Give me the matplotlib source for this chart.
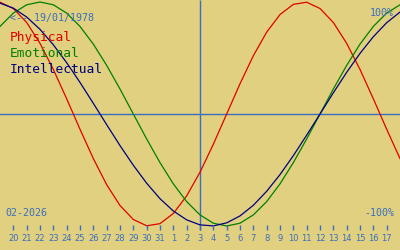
import matplotlib
matplotlib.use("Agg")
import matplotlib.pyplot as plt

# ---- data ----
days = list(range(-15, 16))  # offset in days from today (3 Feb 2026)
physical = [0.998, 0.942, 0.817, 0.631, 0.398, 0.136, -0.136, -0.398, -0.631, -0.817,
            -0.942, -0.998, -0.979, -0.888, -0.731, -0.520, -0.270, 0.000, 0.270, 0.520,
            0.731, 0.888, 0.979, 0.998, 0.942, 0.817, 0.631, 0.398, 0.136, -0.136, -0.398]
emotional = [0.782, 0.901, 0.975, 1.000, 0.975, 0.901, 0.782, 0.624, 0.434, 0.223,
             0.000, -0.223, -0.434, -0.624, -0.782, -0.901, -0.975, -1.000, -0.975, -0.901,
             -0.782, -0.624, -0.434, -0.223, 0.000, 0.223, 0.434, 0.624, 0.782, 0.901, 0.975]
intellectual = [0.990, 0.945, 0.866, 0.756, 0.618, 0.458, 0.282, 0.095, -0.095, -0.282,
                -0.458, -0.618, -0.756, -0.866, -0.945, -0.990, -0.999, -0.972, -0.910, -0.815,
                -0.690, -0.541, -0.372, -0.189, 0.000, 0.189, 0.372, 0.541, 0.690, 0.815, 0.910]
tick_days = list(range(-14, 15))
tick_labels = ["20", "21", "22", "23", "24", "25", "26", "27", "28", "29", "30", "31",
               "1", "2", "3", "4", "5", "6", "7", "8", "9", "10", "11", "12", "13",
               "14", "15", "16", "17"]
birth_label = "<-- 19/01/1978"
month_label = "02-2026"

# ---- styling ----
BG = "#e0d080"
BLUE = "#3a6ebe"
W, H = 400, 250
CY, AMP = 114.0, 112.0  # pixel centre and amplitude


def py2v(py):
    return (CY - py) / AMP


fig = plt.figure(figsize=(W / 100, H / 100), dpi=100)
fig.patch.set_facecolor(BG)
ax = fig.add_axes([0, 0, 1, 1])
ax.set_facecolor(BG)
ax.set_xlim(-15, 15)
ax.set_ylim(py2v(H), py2v(0))
ax.axis("off")

# axes lines
ax.axhline(0, color=BLUE, lw=1.0)
ax.vlines(0, py2v(230), py2v(0), color=BLUE, lw=1.0)

# curves
ax.plot(days, physical, color="#e00000", lw=0.9)
ax.plot(days, emotional, color="#008000", lw=0.9)
ax.plot(days, intellectual, color="#000080", lw=0.9)

# ticks
ax.vlines(tick_days, py2v(230), py2v(225), color=BLUE, lw=1.0)
for d, lab in zip(tick_days, tick_labels):
    ax.text(d, py2v(241), lab, color=BLUE, fontsize=6, ha="center", va="baseline",
            family="DejaVu Sans")


def ftext(x, y, s, **kw):
    fig.text(x / W, 1 - y / H, s, va="baseline", **kw)


mono = "DejaVu Sans Mono"
ftext(10, 21, birth_label, color=BLUE, fontsize=7.2, family=mono)
ftext(10, 41, "Physical", color="#e00000", fontsize=9.3, family=mono)
ftext(10, 57, "Emotional", color="#008000", fontsize=9.3, family=mono)
ftext(10, 73, "Intellectual", color="#000080", fontsize=9.3, family=mono)
ftext(394, 15.5, "100%", color=BLUE, fontsize=7.2, family=mono, ha="right")
ftext(394, 216, "-100%", color=BLUE, fontsize=7.2, family=mono, ha="right")
ftext(5, 216, month_label, color=BLUE, fontsize=7.2, family=mono)

fig.savefig("out.png", dpi=100, facecolor=BG)
